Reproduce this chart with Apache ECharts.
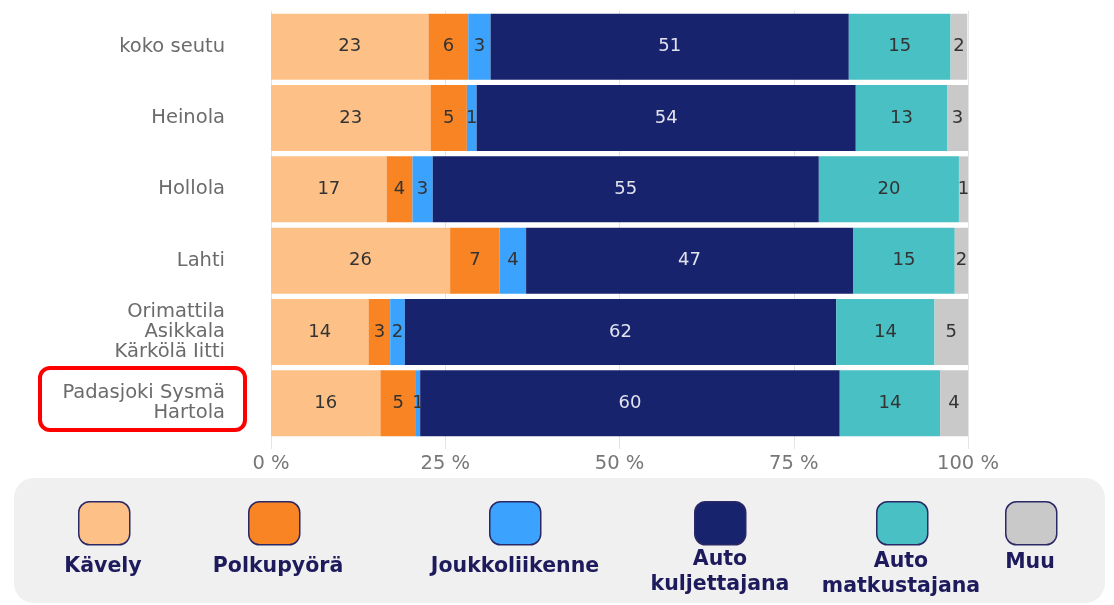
<!DOCTYPE html>
<html>
<head>
<meta charset="utf-8">
<style>
  html, body { margin: 0; padding: 0; background: #fff; }
  #chart { width: 1114px; height: 605px; }
</style>
<script src="https://cdn.jsdelivr.net/npm/echarts@6/dist/echarts.min.js"></script>
</head>
<body>
<div id="chart"></div>
<script>
const categories = [
  'koko seutu',
  'Heinola',
  'Hollola',
  'Lahti',
  'Orimattila\nAsikkala\nKärkölä Iitti',
  'Padasjoki Sysmä\nHartola'
]

const seriesNames = ['Kävely', 'Polkupyörä', 'Joukkoliikenne', 'Auto kuljettajana', 'Auto matkustajana', 'Muu']
const legendLines = [['Kävely'], ['Polkupyörä'], ['Joukkoliikenne'], ['Auto', 'kuljettajana'], ['Auto', 'matkustajana'], ['Muu']]

// share of trips, %
const kavely = [22.6, 22.9, 16.6, 25.7, 14.0, 15.7]
const polkupyora = [5.7, 5.2, 3.7, 7.1, 3.1, 5.1]
const joukkoliikenne = [3.2, 1.4, 2.9, 3.8, 2.1, 0.6]
const autoKuljettajana = [51.4, 54.4, 55.4, 46.9, 61.9, 60.2]
const autoMatkustajana = [14.6, 13.1, 20.1, 14.6, 14.1, 14.4]
const muu = [2.4, 3.0, 1.3, 1.9, 4.8, 4.0]

const xTicks = [0, 25, 50, 75, 100]

const colors = ['#fdc188', '#f98423', '#3ba2fd', '#18236e', '#49c0c4', '#c9c9c9']
const labelColors = ['#333', '#333', '#333', '#e2e2ee', '#333', '#333']
const values = [kavely, polkupyora, joukkoliikenne, autoKuljettajana, autoMatkustajana, muu]

const font = 'DejaVu Sans, Verdana, sans-serif'
const legendText = '#1e1b5c'

// legend swatch spots and label centres
const swatchLeft = [78, 248, 489, 694, 876, 1005]
const labelX = [103, 278, 515, 720, 901, 1030]
const labelTop = [554, 554, 554, 547, 549, 550]

const chart = echarts.init(document.getElementById('chart'))

const series = seriesNames.map((name, i) => ({
  name,
  type: 'bar',
  stack: 'total',
  barCategoryGap: '7.5%',
  data: values[i],
  itemStyle: { color: colors[i] },
  label: {
    show: true,
    position: 'inside',
    color: labelColors[i],
    fontFamily: font,
    fontSize: 18,
    formatter: p => Math.round(p.value)
  }
}))

const legends = seriesNames.map((name, i) => ({
  data: [name],
  left: swatchLeft[i],
  top: 501,
  padding: 0,
  icon: 'roundRect',
  itemWidth: 51,
  itemHeight: 43,
  itemStyle: { borderColor: '#2b2866', borderWidth: 1.5 },
  formatter: () => '',
  selectedMode: false
}))

const legendLabels = legendLines.map((lines, i) => ({
  type: 'text',
  x: labelX[i],
  y: labelTop[i],
  style: {
    text: lines.join('\n'),
    fill: legendText,
    font: 'bold 20.5px ' + font,
    lineHeight: 25,
    textAlign: 'center',
    textVerticalAlign: 'top'
  }
}))

const option = {
  animation: false,
  grid: {
    left: 271,
    right: 146,
    top: 11,
    bottom: 166
  },
  legend: legends,
  xAxis: {
    type: 'value',
    min: xTicks[0],
    max: xTicks[xTicks.length - 1],
    interval: 25,
    axisLine: { show: false },
    axisTick: { show: true, length: 10, lineStyle: { color: '#e4e4e4' } },
    splitLine: { lineStyle: { color: '#e4e4e4' } },
    axisLabel: {
      color: '#777',
      fontFamily: font,
      fontSize: 19.5,
      margin: 15,
      formatter: '{value} %'
    }
  },
  yAxis: {
    type: 'category',
    inverse: true,
    data: categories,
    axisTick: { show: false },
    axisLine: { show: true, lineStyle: { color: '#e4e4e4' } },
    axisLabel: {
      color: '#6b6b6b',
      fontFamily: font,
      fontSize: 19.5,
      lineHeight: 20,
      margin: 46
    }
  },
  graphic: [
    {
      type: 'rect',
      z: -10,
      shape: { x: 14, y: 478, width: 1091, height: 125, r: 20 },
      style: { fill: '#f0f0f0' }
    },
    {
      type: 'rect',
      shape: { x: 40, y: 368, width: 205, height: 62, r: 10 },
      style: { fill: 'none', stroke: '#f00', lineWidth: 4 }
    },
    ...legendLabels
  ],
  series
}

chart.setOption(option)
</script>
</body>
</html>
